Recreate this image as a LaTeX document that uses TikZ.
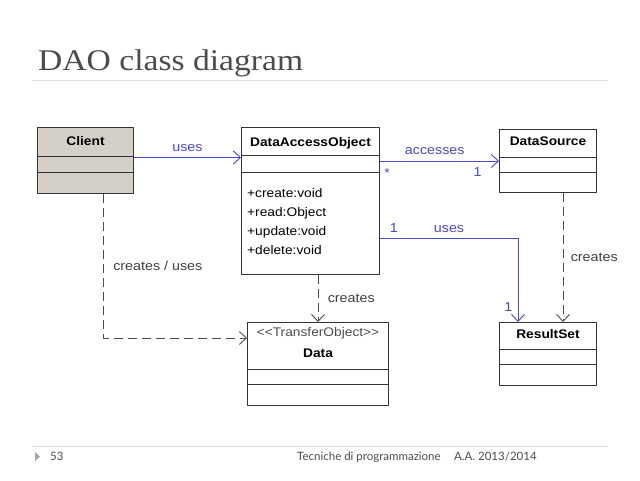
\documentclass[tikz,border=0pt]{standalone}
\usepackage{fontspec}
\setmainfont{Liberation Serif}
\newfontfamily\titlefont[FakeStretch=1.12]{Liberation Serif}
\newfontfamily\umlfont[FakeStretch=1.1]{Liberation Sans}
\newfontfamily\footfont{Lato}
\usetikzlibrary{arrows.meta,positioning}
\definecolor{umlblue}{RGB}{72,72,200}
\definecolor{clientgray}{RGB}{212,208,200}
\definecolor{titlegray}{RGB}{75,75,75}

\begin{document}
\begin{tikzpicture}[x=1pt,y=-1pt, line join=round,
  cls/.style={draw=black!80, line width=1pt, anchor=north west, inner sep=0pt},
  hdr/.style={font=\umlfont\bfseries\fontsize{12.5}{14}\selectfont, anchor=base, inner sep=0pt},
  op/.style={font=\umlfont\fontsize{12.5}{14}\selectfont, anchor=base west, inner sep=0pt},
  lbl/.style={font=\umlfont\fontsize{13}{15}\selectfont, text=umlblue},
  note/.style={font=\umlfont\fontsize{13}{15}\selectfont, text=black!75},
  assoc/.style={draw=umlblue, line width=0.9pt, -{Straight Barb[length=7pt,width=13pt]}},
  dep/.style={draw=black!70, line width=0.9pt, dash pattern=on 9pt off 5pt, -{Straight Barb[length=7pt,width=13pt]}}]
\fill[white] (0,0) rectangle (640,480);
\useasboundingbox (0,0) rectangle (640,480);
% title
\node[anchor=base west, inner sep=0pt, text=titlegray, font=\titlefont\fontsize{30}{34}\selectfont] (title) at (38,70) {DAO class diagram};
\draw[black!12, line width=0.8pt] (32,80) -- (608,80);
% classes
\node[cls, fill=clientgray, minimum width=96, minimum height=66] (client) at (37,127) {};
\node[cls, minimum width=138, minimum height=147] (dao) at (241,127) {};
\node[cls, minimum width=97, minimum height=63] (ds) at (499,129) {};
\node[cls, minimum width=97, minimum height=63] (rs) at (499,322) {};
\node[cls, minimum width=141, minimum height=83] (data) at (247,322) {};
\foreach \n/\d in {client/29,client/45,dao/28,dao/45,ds/28,ds/43,rs/27,rs/42,data/47,data/62}
  \draw[black!80, line width=1pt] ([yshift=-\d]\n.north west) -- ([yshift=-\d]\n.north east);
\node[hdr] (clientname) at ([yshift=-18]client.north) {Client};
\node[hdr] (daoname) at ([yshift=-19]dao.north) {DataAccessObject};
\node[hdr] (dsname) at ([yshift=-16]ds.north) {DataSource};
\node[hdr] (rsname) at ([yshift=-16]rs.north) {ResultSet};
\node[hdr, font=\umlfont\fontsize{12.5}{14}\selectfont, text=black!70] (stereo) at ([yshift=-14]data.north) {<{}<TransferObject>{}>};
\node[hdr] (dataname) at ([yshift=-35]data.north) {Data};
\foreach \t [count=\i] in {+create:void,+read:Object,+update:void,+delete:void}
  \node[op] (op\i) at ([xshift=6, yshift={-51-19*\i}]dao.north west) {\t};
% associations
\draw[assoc] ([yshift=3]client.east) -- ([yshift=3]client.east -| dao.west)
  node[lbl, midway, above=2pt] (usesa) {uses};
\draw[assoc] (ds.west -| dao.east) -- (ds.west)
  node[lbl, pos=0.46, above=3pt] (acc) {accesses}
  node[lbl, pos=0.06, below=4pt] (many) {*}
  node[lbl, pos=0.82, below=3pt] (onea) {1};
\draw[assoc] ([yshift=-37]dao.east) -| ([xshift=-30]rs.north)
  node[lbl, pos=0.05, above=2pt] (oneb) {1}
  node[lbl, pos=0.25, above=2pt] (usesb) {uses}
  node[lbl, pos=0.91, left=2pt] (onec) {1};
% dependencies
\draw[dep] ([xshift=15]ds.south) -- ([xshift=15]rs.north)
  node[note, midway, right=4pt] (crea) {creates};
\draw[dep] (data.north |- dao.south) -- (data.north)
  node[note, midway, right=6pt] (creb) {creates};
\draw[dep] ([xshift=18]client.south) |- ([yshift=26]data.west)
  node[note, pos=0.25, right=6pt] (crec) {creates / uses};
% footer
\draw[black!12, line width=0.8pt] (32,446) -- (608,446);
\fill[black!35] (35,452) -- (40,456.5) -- (35,461) -- cycle;
\node[anchor=base west, inner sep=0pt, font=\footfont\fontsize{11.5}{13}\selectfont, text=black!70] (pagenum) at (50,460) {53};
\node[anchor=base west, inner sep=0pt, font=\footfont\fontsize{11.5}{13}\selectfont, text=black!70] (course) at (297,460) {Tecniche di programmazione};
\node[anchor=base west, inner sep=0pt, font=\footfont\fontsize{11.5}{13}\selectfont, text=black!70] (year) at (454,460) {A.A. 2013/2014};
\end{tikzpicture}
\end{document}
